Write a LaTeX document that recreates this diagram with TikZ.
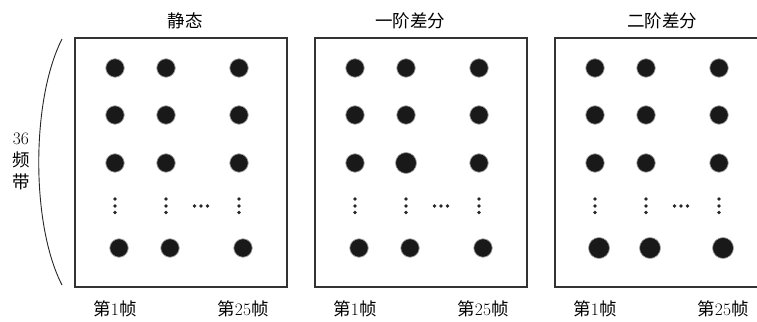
\documentclass[tikz,border=0pt]{standalone}
\usepackage{fontspec}
\newfontfamily\cjk{Noto Sans CJK SC}
\begin{document}
\begin{tikzpicture}[x=1pt,y=-1pt,
  txt/.style={font=\fontsize{17.5}{22}\selectfont, inner sep=0pt},
  panelbox/.style={draw=black!80, line width=1.1pt},
  dotbig/.style={circle, fill=black!90, draw=black!35, line width=0.7pt, minimum size=18.5pt, inner sep=0pt},
  dothuge/.style={dotbig, minimum size=21pt},
  dotsmall/.style={circle, fill=black!85, minimum size=3.8pt, inner sep=0pt},
  brace/.style={draw=black!85, line width=0.9pt}]
\useasboundingbox (0,0) rectangle (757,321);
\clip (0,0) rectangle (757,321);
\fill[white] (0,0) rectangle (757,321);

% bracket and side label
\coordinate (bt) at (62,39);
\coordinate (bb) at (62,285);
\draw[brace] (bt) .. controls (31,100) and (31,225) .. (bb);
\node[txt, align=center] (band) at (21,161) {36\\{\cjk 频}\\{\cjk 带}};

% titles
\node[txt] (t1) at (185,21) {\cjk 静态};
\node[txt] (t2) at (410,21) {\cjk 一阶差分};
\node[txt] (t3) at (662,21) {\cjk 二阶差分};

\foreach \p/\ox in {1/75,2/315,3/555}{
  \draw[panelbox] (\ox,38) rectangle (\ox+212,287);
  % rows 1-3
  \foreach \r/\yy in {1/68,2/115,3/163}{
    \foreach \c/\xx in {1/40,2/91,3/164}{
      \node[dotbig] (d\p-\r-\c) at (\ox+\xx,\yy) {};
    }
  }
  % bottom row
  \foreach \c/\xx in {1/44,2/95,3/168}{
    \node[dotbig] (d\p-5-\c) at (\ox+\xx,248) {};
  }
  % vertical ellipses
  \foreach \c/\xx in {1/40,2/91,3/164}{
    \foreach \k/\yy in {1/199,2/206,3/212.5}{
      \node[dotsmall] (v\p-\c-\k) at (\ox+\xx,\yy) {};
    }
  }
  % horizontal ellipsis
  \foreach \k/\xx in {1/119.5,2/126,3/132.5}{
    \node[dotsmall] (h\p-\k) at (\ox+\xx,206) {};
  }
  % frame labels
  \node[txt] (f\p-a) at (\ox+40,309) {{\cjk 第}1{\cjk 帧}};
  \node[txt] (f\p-b) at (\ox+168,309) {{\cjk 第}25{\cjk 帧}};
}

% enlarged dots
\node[dothuge] (e2) at (d2-3-2) {};
\node[dothuge] (e3a) at (d3-5-1) {};
\node[dothuge] (e3b) at (d3-5-2) {};
\node[dothuge] (e3c) at (d3-5-3) {};
\end{tikzpicture}
\end{document}
